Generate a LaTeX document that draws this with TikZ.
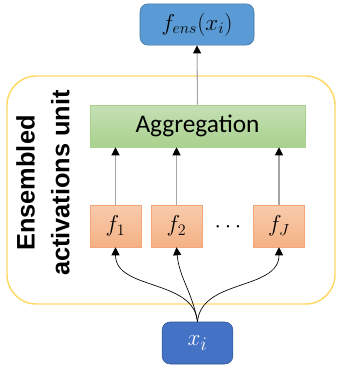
\documentclass[tikz,border=0pt]{standalone}
\usepackage{fontspec}
\setmainfont{Carlito}
\setsansfont{Liberation Sans}
\usetikzlibrary{positioning,arrows.meta,calc}
\definecolor{unitgold}{HTML}{FFD966}
\definecolor{outblue}{HTML}{5B9BD5}
\definecolor{outedge}{HTML}{41719C}
\definecolor{inblue}{HTML}{4472C4}
\definecolor{inedge}{HTML}{2F528F}
\definecolor{aggtop}{HTML}{C5E0B4}
\definecolor{aggbot}{HTML}{A9D18E}
\definecolor{acttop}{HTML}{F8CBAD}
\definecolor{actbot}{HTML}{F4B183}
\definecolor{actedge}{HTML}{F4A57A}
\definecolor{linkgray}{HTML}{A6A6A6}
\tikzset{
  actbox/.style={draw=actedge,top color=acttop,bottom color=actbot,minimum width=38pt,minimum height=31.5pt,inner sep=0pt,font=\fontsize{17}{20}\selectfont},
  feed/.style={draw=linkgray,line width=0.8pt,-{Triangle[black,width=6pt,length=6pt]}},
  fan/.style={draw=black,line width=0.5pt,-{Triangle[black,width=6pt,length=6pt]}}
}
\begin{document}
\begin{tikzpicture}[x=0.75pt,y=-0.75pt]
\useasboundingbox (0,0) rectangle (336,368);
\draw [unitgold,line width=1.1pt,rounded corners=22pt] (7,76) rectangle (335,304);
\node [rotate=90,align=center,font=\sffamily\bfseries\fontsize{19}{26}\selectfont] (UnitLabel) at (43,183) {Ensembled\\activations unit};
\node [draw=outedge,fill=outblue,rounded corners=6pt,minimum width=85.5pt,minimum height=31pt,font=\fontsize{17}{20}\selectfont] (Out) at (197,24.5) {$f_{ens}(x_i)$};
\node [draw=aggbot,top color=aggtop,bottom color=aggbot,minimum width=161pt,minimum height=31.5pt,font=\fontsize{19}{22}\selectfont] (Agg) at (197.5,126) {Aggregation};
\node [actbox] (F1) at (115.5,226) {$f_1$};
\node [actbox] (F2) at (176.5,226) {$f_2$};
\node [actbox] (FJ) at (279,226) {$f_J$};
\node [font=\fontsize{17}{20}\selectfont,inner sep=0pt] (Dots) at (228,227) {$\cdots$};
\node [draw=inedge,fill=inblue,text=white,rounded corners=6pt,minimum width=53pt,minimum height=31.5pt,font=\fontsize{19}{22}\selectfont] (In) at (197.5,343) {$x_i$};
\draw [feed] (F1.north) -- (F1.north |- Agg.south);
\draw [feed] (F2.north) -- (F2.north |- Agg.south);
\draw [feed] (FJ.north) -- (FJ.north |- Agg.south);
\draw [feed] (Agg.north) -- (Out.south);
\draw [fan] (In.north) to[out=95,in=-90] (F1.south);
\draw [fan] (In.north) to[out=100,in=-85] (F2.south);
\draw [fan] (In.north) to[out=85,in=-90] (FJ.south);
\end{tikzpicture}
\end{document}
